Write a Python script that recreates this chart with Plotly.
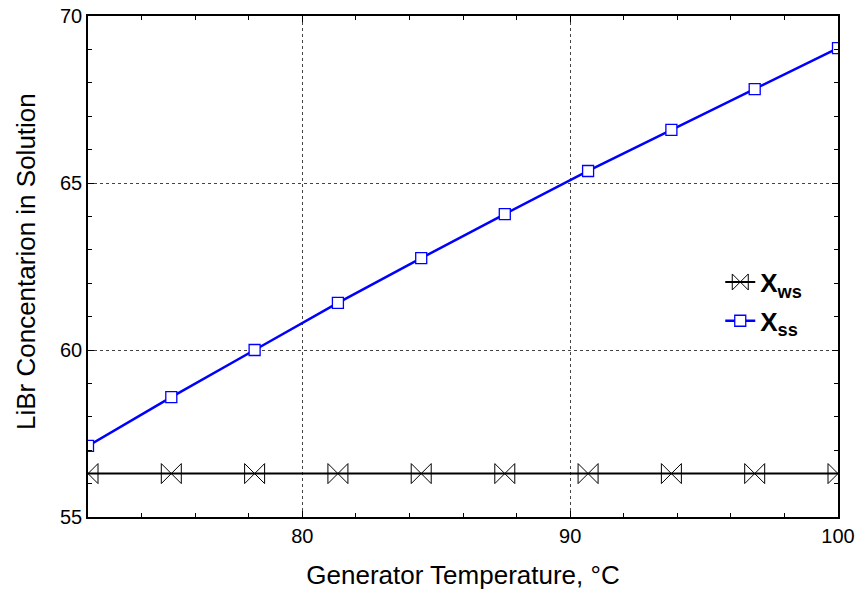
import plotly.graph_objects as go

temps = [72.0, 75.11, 78.22, 81.33, 84.44, 87.56, 90.67, 93.78, 96.89, 100.0]
x_ws = [56.3, 56.3, 56.3, 56.3, 56.3, 56.3, 56.3, 56.3, 56.3, 56.3]
x_ss = [57.13, 58.59, 60.0, 61.41, 62.75, 64.07, 65.36, 66.59, 67.81, 69.04]

FONT = "Liberation Sans, Arial"

fig = go.Figure()
fig.add_trace(go.Scatter(
    x=temps, y=x_ws, mode="lines+markers",
    name="<b>X</b><sub><b>ws</b></sub>", legendgroup="ws",
    line=dict(color="black", width=2),
    marker=dict(symbol="bowtie-open", size=20, color="black", line=dict(width=1)),
))
fig.add_trace(go.Scatter(
    x=temps, y=x_ss, mode="lines+markers",
    name="<b>X</b><sub><b>ss</b></sub>", legendgroup="ss",
    line=dict(color="#0000ff", width=2.5),
    marker=dict(symbol="square", size=11, color="white", line=dict(color="#0000ff", width=1.3)),
))

axis_common = dict(
    showline=True, linecolor="black", linewidth=1.5, mirror="allticks",
    ticks="inside", ticklen=6, tickcolor="black",
    showgrid=True, gridcolor="#444444", griddash="dot", gridwidth=1,
    zeroline=False, automargin=False,
    tickfont=dict(family=FONT, size=20, color="black"),
)

fig.update_xaxes(
    range=[72, 100], tickvals=[80, 90, 100],
    title=dict(text="Generator Temperature, °C", font=dict(family=FONT, size=26, color="black"), standoff=20),
    minor=dict(dtick=2, tick0=72, ticks="inside", ticklen=4, tickcolor="black", showgrid=False),
    **axis_common,
)
fig.update_yaxes(
    range=[55, 70], tickvals=[55, 60, 65, 70],
    minor=dict(dtick=1, tick0=55, ticks="inside", ticklen=4, tickcolor="black", showgrid=False),
    **axis_common,
)

fig.add_annotation(
    text="LiBr Concentarion in Solution", textangle=-90,
    xref="paper", yref="paper", x=(26 - 88) / 750, y=(517 - 262) / 501,
    xanchor="center", yanchor="middle", showarrow=False,
    font=dict(family=FONT, size=26, color="black"),
)

fig.update_layout(
    width=860, height=596,
    margin=dict(l=88, r=22, t=16, b=79),
    paper_bgcolor="white", plot_bgcolor="white",
    legend=dict(x=0.843, y=0.43, xanchor="left", yanchor="middle",
                bgcolor="rgba(0,0,0,0)", borderwidth=0,
                font=dict(family=FONT, size=26, color="black"),
                tracegroupgap=2),
    showlegend=True,
)

fig.write_html("out.html")
